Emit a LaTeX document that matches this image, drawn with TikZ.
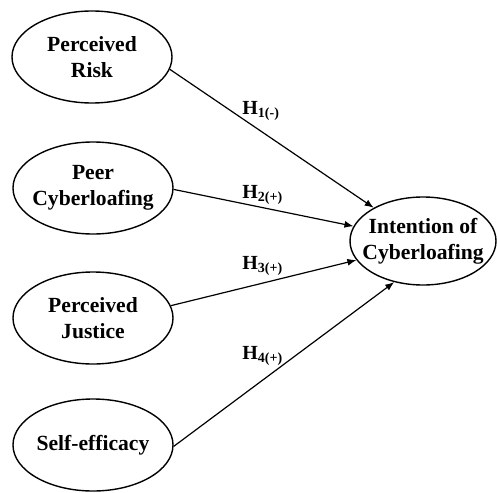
\documentclass[tikz,border=0pt]{standalone}
\usepackage{fontspec}
\setmainfont{Liberation Serif}
\usetikzlibrary{arrows.meta,shapes.geometric}

\tikzset{
    construct/.style={draw,ellipse,line width=0.7pt,inner xsep=-6pt,inner ysep=0pt,
        minimum width=80pt,minimum height=46pt,align=center,
        font=\fontsize{10.8}{13}\selectfont\bfseries},
    hyp/.style={-{Latex[length=4.5pt,width=3.5pt]},line width=0.6pt},
    hlabel/.style={anchor=west,inner sep=0pt,font=\fontsize{10}{12}\selectfont\bfseries},
}

\newcommand{\hedge}[4]{
    \draw[hyp] (#1) -- (#2);
    \node[hlabel] at (#3) {H\textsubscript{#4}};
}

\begin{document}
\begin{tikzpicture}[x=0.5pt,y=-0.5pt]
\useasboundingbox (0,0) rectangle (497,492);

\coordinate (p) at (92, 57);
\coordinate (q) at (93, 188);
\coordinate (r) at (93, 318);
\coordinate (s) at (93, 445);
\coordinate (t) at (423, 241);

\node[construct] (pr) at (p) {Perceived\\Risk};
\node[construct] (pc) at (q) {Peer\\Cyberloafing};
\node[construct] (pj) at (r) {Perceived\\Justice};
\node[construct] (se) at (s) {Self-efficacy};
\node[construct,minimum width=73pt,minimum height=44pt] (ic) at (t) {Intention of\\Cyberloafing};

\hedge{pr.-9}{ic.146}{242,111}{1(-)}
\hedge{pc.-1}{ic.168}{242,195}{2(+)}
\hedge{pj.9}{ic.196}{242,266}{3(+)}
\hedge{se.-1}{ic.235}{242,356}{4(+)}

\end{tikzpicture}
\end{document}
